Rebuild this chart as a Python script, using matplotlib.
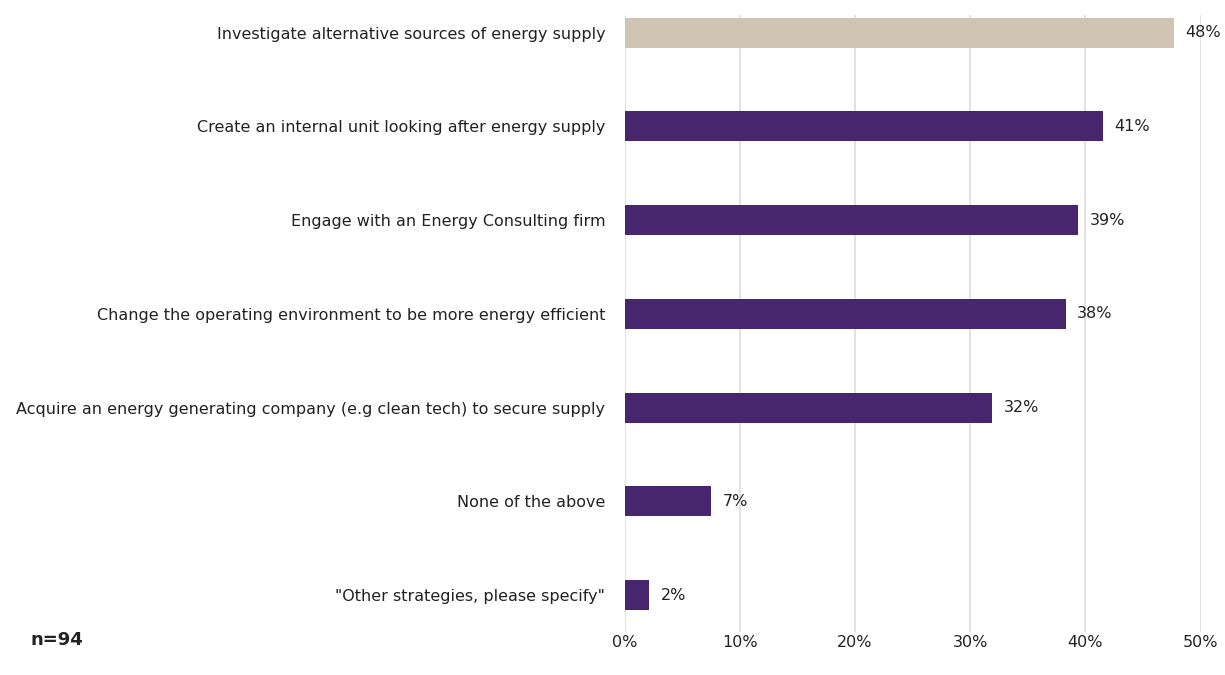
import matplotlib.pyplot as plt

categories = [
    "Investigate alternative sources of energy supply",
    "Create an internal unit looking after energy supply",
    "Engage with an Energy Consulting firm",
    "Change the operating environment to be more energy efficient",
    "Acquire an energy generating company (e.g clean tech) to secure supply",
    "None of the above",
    "\"Other strategies, please specify\"",
]
values = [47.7, 41.5, 39.4, 38.3, 31.9, 7.5, 2.1]
labels = ["48%", "41%", "39%", "38%", "32%", "7%", "2%"]
colors = ["#D0C4B4"] + ["#48266E"] * 6

plt.rcParams['font.family'] = ['DejaVu Sans']

fig = plt.figure(figsize=(12.25, 6.75), dpi=100)
ax = fig.add_axes([0.510, 0.064, 0.470, 0.914])

ypos = list(range(len(categories)))
ax.barh(ypos, values, height=0.32, color=colors, zorder=3)
for y, v, lab in zip(ypos, values, labels):
    ax.text(v + 1.0, y, lab, va="center", ha="left", fontsize=11.5, color="#222222")

ax.set_xlim(0, 50)
ax.set_ylim(6.39, -0.19)
ax.set_xticks([0, 10, 20, 30, 40, 50])
ax.set_xticklabels(["0%", "10%", "20%", "30%", "40%", "50%"], fontsize=11.5, color="#222222")
ax.set_yticks(ypos)
ax.set_yticklabels(categories, fontsize=11.5, color="#222222", va="center_baseline")
ax.tick_params(axis="both", length=0)
ax.tick_params(axis="y", pad=14)
ax.tick_params(axis="x", pad=2)
ax.grid(axis="x", color="#DDDDDD", linewidth=1.2, zorder=0)
for s in ax.spines.values():
    s.set_visible(False)

fig.text(30 / 1225, 1 - 640 / 675, "n=94", fontsize=13, fontweight="bold", va="center", ha="left", color="#222222")

fig.savefig("out.png", dpi=100)
